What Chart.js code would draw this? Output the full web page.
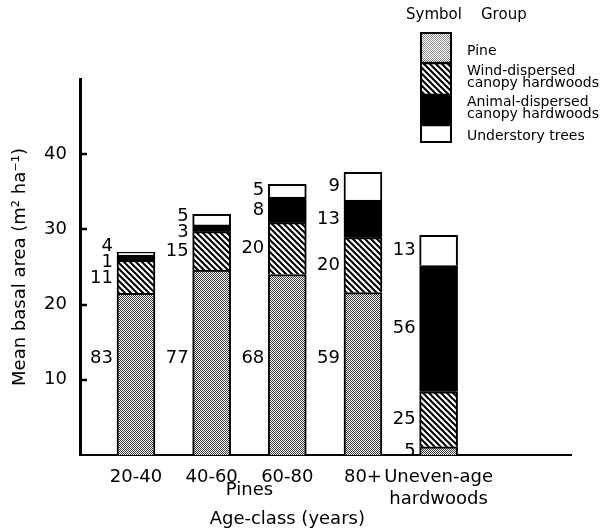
<!DOCTYPE html>
<html>
<head>
    <title>Mean basal area by age-class</title>
    <script src="https://cdn.jsdelivr.net/npm/chart.js@4.4.0/dist/chart.umd.min.js"></script>
    <style>
        body { margin: 0; background: #fff; }
    </style>
</head>
<body>
    <canvas id="basalChart" width="600" height="530"></canvas>

    <script>
        // categories sit at x = 1..5 on a linear axis (the axis runs on past the last bar)
        const ageClasses = ['20-40', '40-60', '60-80', '80+', ['Uneven-age', 'hardwoods']];
        const groups = ['Pine', 'Wind-dispersed canopy hardwoods', 'Animal-dispersed canopy hardwoods', 'Understory trees'];
        const groupLines = [['Pine'], ['Wind-dispersed', 'canopy hardwoods'], ['Animal-dispersed', 'canopy hardwoods'], ['Understory trees']];

        // mean basal area (m2 ha-1) of each group
        const pine   = [21.5, 24.6, 24.0, 21.6, 1.1];
        const wind   = [4.4, 5.1, 6.9, 7.3, 7.3];
        const animal = [0.7, 0.9, 3.4, 5.0, 16.8];
        const under  = [0.4, 1.4, 1.7, 3.7, 4.0];

        // percent of the total, written beside each segment
        const pinePct   = [83, 77, 68, 59, 5];
        const windPct   = [11, 15, 20, 20, 25];
        const animalPct = [1, 3, 8, 13, 56];
        const underPct  = [4, 5, 5, 9, 13];

        const yTicks = [10, 20, 30, 40];

        const family = "'DejaVu Sans', sans-serif";
        const canvas = document.getElementById('basalChart');
        const mainCtx = canvas.getContext('2d');

        function stipple(size, dot) {
            const c = document.createElement('canvas');
            c.width = size; c.height = size;
            const g = c.getContext('2d');
            g.fillStyle = '#fff'; g.fillRect(0, 0, size, size);
            g.fillStyle = dot;
            g.fillRect(0, 0, 1, 1);
            g.fillRect(size / 2, size / 2, 1, 1);
            return mainCtx.createPattern(c, 'repeat');
        }

        function hatch() {
            const s = 6;
            const c = document.createElement('canvas');
            c.width = s; c.height = s;
            const g = c.getContext('2d');
            g.fillStyle = '#fff'; g.fillRect(0, 0, s, s);
            g.strokeStyle = '#000'; g.lineWidth = 2;
            g.beginPath();
            g.moveTo(-1, -1); g.lineTo(s + 1, s + 1);
            g.moveTo(-1, s - 1); g.lineTo(1, s + 1);
            g.moveTo(s - 1, -1); g.lineTo(s + 1, 1);
            g.stroke();
            return mainCtx.createPattern(c, 'repeat');
        }

        const fills = [stipple(2, '#3a3a3a'), hatch(), '#000', '#fff'];
        const legendFills = [stipple(2, '#8a8a8a'), fills[1], fills[2], fills[3]];
        const series = [pine, wind, animal, under];
        const pcts = [pinePct, windPct, animalPct, underPct];

        // percent labels, legend, inward ticks and the extra axis text
        const annotate = {
            id: 'annotate',
            afterDraw(chart) {
                const { ctx, scales: { x, y } } = chart;
                ctx.save();
                ctx.fillStyle = '#000';
                ctx.font = `18px ${family}`;
                ctx.textAlign = 'right';
                ctx.textBaseline = 'middle';

                ageClasses.forEach((_, i) => {
                    const bar = chart.getDatasetMeta(0).data[i];
                    const left = bar.x - bar.width / 2 - 4;
                    let base = 0;
                    const items = [];
                    series.forEach((vals, k) => {
                        const lo = base, hi = base + vals[i];
                        base = hi;
                        const py = (k === 0 && vals[i] > 15)
                            ? y.getPixelForValue(12.9)
                            : y.getPixelForValue((lo + hi) / 2);
                        items.push({ t: pcts[k][i], y: py });
                    });
                    // spread crowded labels
                    items.sort((a, b) => a.y - b.y);
                    for (let n = 0; n < 20; n++) {
                        for (let j = 1; j < items.length; j++) {
                            const d = items[j].y - items[j - 1].y;
                            if (d < 16) {
                                const s = (16 - d) / 2;
                                items[j].y += s;
                                items[j - 1].y -= s;
                            }
                        }
                    }
                    items.forEach(it => ctx.fillText(String(it.t), left, it.y));
                });

                // ticks point into the plot
                ctx.strokeStyle = '#000';
                ctx.lineWidth = 2.5;
                yTicks.forEach(v => {
                    const py = Math.round(y.getPixelForValue(v));
                    ctx.beginPath();
                    ctx.moveTo(x.left, py);
                    ctx.lineTo(x.left + 7, py);
                    ctx.stroke();
                });

                ctx.textAlign = 'center';
                ctx.fillText('Pines', x.getPixelForValue(2.5), y.bottom + 35);
                ctx.fillText('Age-class (years)', x.getPixelForValue(3), y.bottom + 64);

                // legend
                ctx.textAlign = 'left';
                ctx.font = `15px ${family}`;
                ctx.fillText('Symbol', 406, 15);
                ctx.fillText('Group', 481, 15);
                const heights = [30, 32, 30, 17];
                const bx = 421, bw = 30;
                let top = 33;
                ctx.font = `14px ${family}`;
                heights.forEach((h, k) => {
                    ctx.fillStyle = legendFills[k];
                    ctx.fillRect(bx, top, bw, h);
                    ctx.fillStyle = '#000';
                    const lines = groupLines[k];
                    const mid = top + h / 2 + (lines.length > 1 ? -8 : 3);
                    lines.forEach((ln, j) => ctx.fillText(ln, 467, mid + j * 12));
                    if (k > 0) {
                        ctx.beginPath();
                        ctx.moveTo(bx, top);
                        ctx.lineTo(bx + bw, top);
                        ctx.stroke();
                    }
                    top += h;
                });
                ctx.lineWidth = 2;
                ctx.strokeRect(bx, 33, bw, top - 33);
                ctx.restore();
            }
        };

        Chart.defaults.font.family = family;
        Chart.defaults.color = '#000';

        new Chart(canvas, {
            type: 'bar',
            data: {
                datasets: series.map((vals, k) => ({
                    label: groups[k],
                    data: vals.map((v, i) => ({ x: i + 1, y: v })),
                    backgroundColor: fills[k],
                    borderColor: '#000',
                    borderWidth: 2,
                    barThickness: 38
                }))
            },
            options: {
                responsive: false,
                animation: false,
                events: [],
                layout: { padding: { top: 79, right: 29, left: 0, bottom: 0 } },
                plugins: {
                    legend: { display: false },
                    tooltip: { enabled: false }
                },
                scales: {
                    x: {
                        type: 'linear',
                        offset: false,
                        stacked: true,
                        min: 0.26,
                        max: 6.75,
                        grid: { display: false, offset: false },
                        border: { display: true, color: '#000', width: 2 },
                        afterBuildTicks: ax => { ax.ticks = ageClasses.map((_, i) => ({ value: i + 1 })); },
                        afterFit: ax => { ax.height = 75; },
                        ticks: {
                            autoSkip: false,
                            maxRotation: 0,
                            padding: 4,
                            color: '#000',
                            font: { size: 18 },
                            callback: (v, i) => ageClasses[i]
                        }
                    },
                    y: {
                        stacked: true,
                        min: 0,
                        max: 50,
                        grid: { display: false },
                        border: { display: true, color: '#000', width: 3 },
                        afterFit: ax => { ax.width = 80; },
                        ticks: {
                            stepSize: 10,
                            padding: 5,
                            color: '#000',
                            font: { size: 18 },
                            callback: v => yTicks.includes(v) ? v : ''
                        },
                        title: {
                            display: true,
                            text: 'Mean basal area (m² ha⁻¹)',
                            color: '#000',
                            font: { size: 18 },
                            padding: { top: 10, bottom: 0 }
                        }
                    }
                }
            },
            plugins: [annotate]
        });
    </script>
</body>
</html>
